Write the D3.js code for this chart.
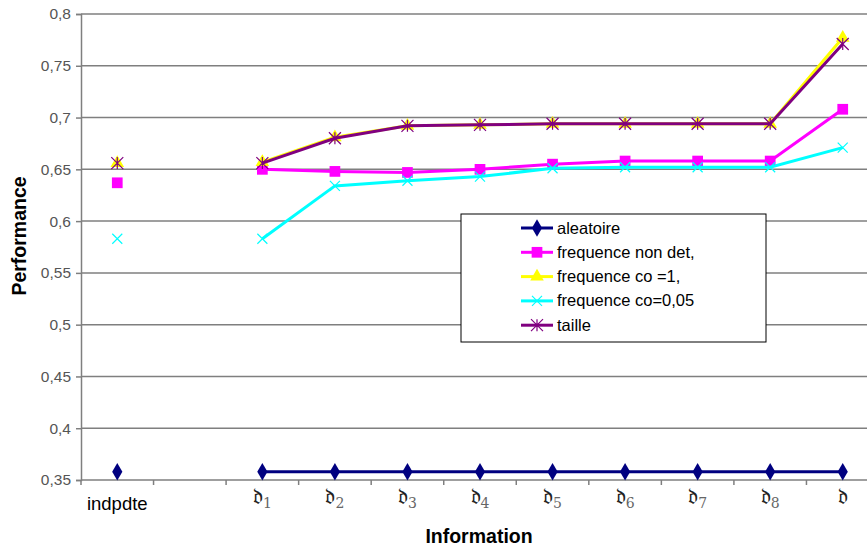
<!DOCTYPE html>
<html><head><meta charset="utf-8">
<script src="https://cdn.jsdelivr.net/npm/d3@7"></script>
<style>body{margin:0;background:#fff;} svg{display:block;font-family:Arial,"Liberation Sans",sans-serif;}</style>
</head><body>
<svg id="c" width="867" height="548"></svg>
<script>
const categories = ["indpdte", "", "d1", "d2", "d3", "d4", "d5", "d6", "d7", "d8", "d"];
const subscripts = [null, null, "1", "2", "3", "4", "5", "6", "7", "8", ""];
const yTicks = [0.35, 0.4, 0.45, 0.5, 0.55, 0.6, 0.65, 0.7, 0.75, 0.8];
const aleatoire   = [0.358, null, 0.358, 0.358, 0.358, 0.358, 0.358, 0.358, 0.358, 0.358, 0.358];
const freqNonDet  = [0.637, null, 0.650, 0.648, 0.647, 0.650, 0.655, 0.658, 0.658, 0.658, 0.708];
const freqCo1     = [0.656, null, 0.657, 0.681, 0.692, 0.693, 0.694, 0.694, 0.694, 0.694, 0.777];
const freqCo005   = [0.583, null, 0.583, 0.634, 0.639, 0.643, 0.651, 0.652, 0.652, 0.652, 0.671];
const taille      = [0.656, null, 0.656, 0.680, 0.692, 0.693, 0.694, 0.694, 0.694, 0.694, 0.771];
const seriesNames = ["aleatoire", "frequence non det,", "frequence co =1,", "frequence co=0,05", " taille"];

const series = [
  {name: seriesNames[0], values: aleatoire, color: "#000080", marker: "diamond"},
  {name: seriesNames[1], values: freqNonDet, color: "#ff00ff", marker: "square"},
  {name: seriesNames[2], values: freqCo1, color: "#ffff00", marker: "triangle"},
  {name: seriesNames[3], values: freqCo005, color: "#00ffff", marker: "x"},
  {name: seriesNames[4], values: taille, color: "#800080", marker: "star"}
];

const svg = d3.select("#c");
const mLeft = 81, mRight = 879, mTop = 14, mBottom = 480;
const x = d3.scaleBand().domain(d3.range(categories.length)).range([mLeft, mRight]);
const y = d3.scaleLinear().domain([0.35, 0.8]).range([mBottom, mTop]);
const cx = i => x(i) + x.bandwidth() / 2;

// gridlines
svg.append("g").selectAll("line").data(yTicks.filter(t => t > 0.35)).join("line")
  .attr("x1", mLeft).attr("x2", 867).attr("y1", d => y(d)).attr("y2", d => y(d))
  .attr("stroke", "#7f7f7f").attr("stroke-width", 1.5);

// y axis
const yAxis = d3.axisLeft(y).tickValues(yTicks).tickSize(5).tickPadding(5)
  .tickFormat(d => String(+d.toFixed(2)).replace(".", ","));
const gy = svg.append("g").attr("transform", `translate(${mLeft},0)`).call(yAxis);
gy.select(".domain").attr("stroke", "#7f7f7f").attr("stroke-width", 1.5);
gy.selectAll(".tick line").attr("stroke", "#7f7f7f").attr("stroke-width", 1.5);
gy.selectAll(".tick text").attr("font-size", 15.5).attr("fill", "#555").attr("font-family", "Arial, Liberation Sans, sans-serif");

// x axis
svg.append("line").attr("x1", mLeft).attr("x2", 867).attr("y1", mBottom).attr("y2", mBottom)
  .attr("stroke", "#7f7f7f").attr("stroke-width", 1.5);
svg.append("g").selectAll("line").data(d3.range(categories.length)).join("line")
  .attr("x1", d => x(d)).attr("x2", d => x(d)).attr("y1", mBottom).attr("y2", mBottom + 5)
  .attr("stroke", "#7f7f7f").attr("stroke-width", 1.5);

const xl = svg.append("g");
categories.forEach((c, i) => {
  if (c === "") return;
  if (subscripts[i] === null) {
    xl.append("text").attr("x", cx(i)).attr("y", 510).attr("text-anchor", "middle")
      .attr("font-size", 18.5).attr("fill", "#000").text(c);
  } else {
    const t = xl.append("text").attr("x", cx(i)).attr("y", 504)
      .attr("text-anchor", "middle").attr("font-family", "DejaVu Serif, serif");
    t.append("tspan").attr("font-size", 22).attr("fill", "#222").text("\u{1D521}");
    if (subscripts[i]) t.append("tspan").attr("font-size", 14).attr("fill", "#666").attr("dy", 4).text(subscripts[i]);
  }
});

// axis titles
svg.append("text").attr("x", 479).attr("y", 543).attr("text-anchor", "middle")
  .attr("font-size", 19.5).attr("font-weight", "bold").text("Information");
svg.append("text").attr("transform", "translate(26,236) rotate(-90)").attr("text-anchor", "middle")
  .attr("font-size", 19.5).attr("font-weight", "bold").text("Performance");

// markers
function drawMarker(g, type, color, px, py) {
  if (type === "diamond") {
    g.append("path").attr("d", d3.symbol(d3.symbolDiamond, 90)()).attr("transform", `translate(${px},${py})`).attr("fill", color);
  } else if (type === "square") {
    g.append("path").attr("d", d3.symbol(d3.symbolSquare, 115)()).attr("transform", `translate(${px},${py})`).attr("fill", color);
  } else if (type === "triangle") {
    g.append("path").attr("d", d3.symbol(d3.symbolTriangle, 80)()).attr("transform", `translate(${px},${py})`).attr("fill", color);
  } else if (type === "x") {
    const s = 5;
    g.append("path").attr("d", `M${px - s},${py - s}L${px + s},${py + s}M${px - s},${py + s}L${px + s},${py - s}`)
      .attr("stroke", color).attr("stroke-width", 1.2).attr("fill", "none");
  } else if (type === "star") {
    const s = 6;
    g.append("path").attr("d", `M${px - s},${py - s}L${px + s},${py + s}M${px - s},${py + s}L${px + s},${py - s}M${px},${py - s}L${px},${py + s}`)
      .attr("stroke", color).attr("stroke-width", 1.2).attr("fill", "none");
  }
}

const line = d3.line().defined(d => d[1] !== null).x(d => cx(d[0])).y(d => y(d[1]));
series.forEach(s => {
  const g = svg.append("g");
  const pts = s.values.map((v, i) => [i, v]);
  g.append("path").datum(pts.slice(2)).attr("d", line)
    .attr("fill", "none").attr("stroke", s.color).attr("stroke-width", 3);
  pts.forEach(p => { if (p[1] !== null) drawMarker(g, s.marker, s.color, cx(p[0]), y(p[1])); });
});

// legend
const lg = svg.append("g");
lg.append("rect").attr("x", 461).attr("y", 214).attr("width", 305).attr("height", 128)
  .attr("fill", "#fff").attr("stroke", "#000").attr("stroke-width", 1);
series.forEach((s, i) => {
  const ly = 228 + i * 24.3;
  lg.append("line").attr("x1", 521).attr("x2", 553).attr("y1", ly).attr("y2", ly)
    .attr("stroke", s.color).attr("stroke-width", 3);
  drawMarker(lg, s.marker, s.color, 537, ly);
  lg.append("text").attr("x", 557).attr("y", ly + 5.5).attr("font-size", 16.5).attr("fill", "#000").text(s.name);
});
</script>
</body></html>
